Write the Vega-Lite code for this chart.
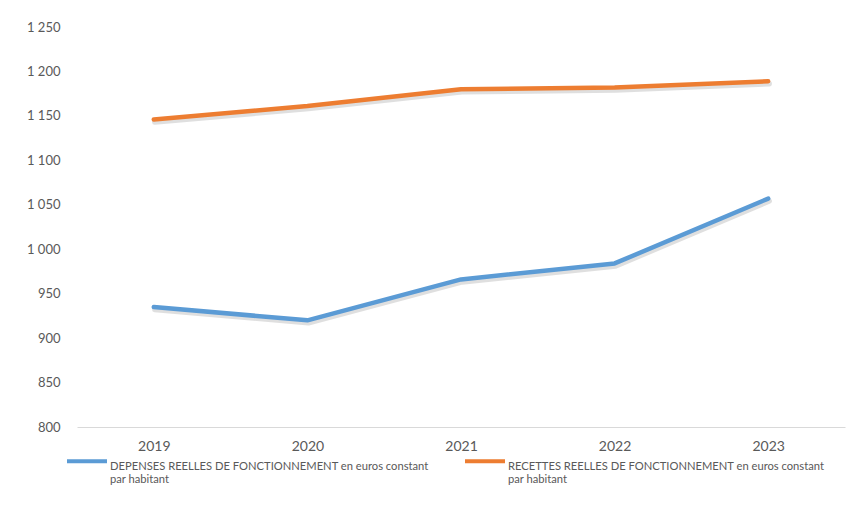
{
  "$schema": "https://vega.github.io/schema/vega-lite/v6.json",
  "width": 768,
  "height": 400,
  "autosize": {"type": "none"},
  "padding": {"left": 77, "top": 27, "right": 14, "bottom": 81},
  "background": "white",
  "config": {
    "view": {"stroke": null},
    "font": "Lato"
  },
  "data": {
    "values": [
      {"annee": "2019", "serie": "DEPENSES REELLES DE FONCTIONNEMENT en euros constant par habitant", "valeur": 935},
      {"annee": "2020", "serie": "DEPENSES REELLES DE FONCTIONNEMENT en euros constant par habitant", "valeur": 920},
      {"annee": "2021", "serie": "DEPENSES REELLES DE FONCTIONNEMENT en euros constant par habitant", "valeur": 966},
      {"annee": "2022", "serie": "DEPENSES REELLES DE FONCTIONNEMENT en euros constant par habitant", "valeur": 984},
      {"annee": "2023", "serie": "DEPENSES REELLES DE FONCTIONNEMENT en euros constant par habitant", "valeur": 1057},
      {"annee": "2019", "serie": "RECETTES REELLES DE FONCTIONNEMENT en euros constant par habitant", "valeur": 1146},
      {"annee": "2020", "serie": "RECETTES REELLES DE FONCTIONNEMENT en euros constant par habitant", "valeur": 1161},
      {"annee": "2021", "serie": "RECETTES REELLES DE FONCTIONNEMENT en euros constant par habitant", "valeur": 1180},
      {"annee": "2022", "serie": "RECETTES REELLES DE FONCTIONNEMENT en euros constant par habitant", "valeur": 1182},
      {"annee": "2023", "serie": "RECETTES REELLES DE FONCTIONNEMENT en euros constant par habitant", "valeur": 1189}
    ]
  },
  "encoding": {
    "x": {
      "field": "annee",
      "type": "ordinal",
      "title": null,
      "scale": {"type": "point", "padding": 0.5},
      "axis": {
        "labelAngle": 0,
        "labelFontSize": 14,
        "labelColor": "#595959",
        "labelPadding": 12,
        "ticks": false,
        "domainColor": "#d9d9d9",
        "domainWidth": 1.2,
        "grid": false
      }
    },
    "y": {
      "field": "valeur",
      "type": "quantitative",
      "title": null,
      "scale": {"domain": [800, 1250], "nice": false, "zero": false},
      "axis": {
        "values": [800, 850, 900, 950, 1000, 1050, 1100, 1150, 1200, 1250],
        "labelExpr": "replace(format(datum.value, ','), ',', ' ')",
        "labelFontSize": 13,
        "labelColor": "#595959",
        "labelPadding": 17,
        "ticks": false,
        "domain": false,
        "grid": false
      }
    }
  },
  "layer": [
    {
      "mark": {"type": "line", "stroke": "#7f7f7f", "opacity": 0.25, "strokeWidth": 5.5, "strokeCap": "round", "strokeJoin": "round", "xOffset": 1, "yOffset": 2.5},
      "encoding": {"detail": {"field": "serie"}}
    },
    {
      "mark": {"type": "line", "strokeWidth": 4.5, "strokeCap": "round", "strokeJoin": "round"},
      "encoding": {
        "color": {
          "field": "serie",
          "type": "nominal",
          "scale": {"range": ["#5b9bd5", "#ed7d31"]},
          "legend": {
            "title": null,
            "orient": "none",
            "legendX": -12,
            "legendY": 412,
            "direction": "horizontal",
            "columns": 2,
            "columnPadding": 28,
            "symbolType": "stroke",
            "symbolSize": 1600,
            "symbolStrokeWidth": 4,
            "labelOffset": 1,
            "labelFontSize": 11.2,
            "labelColor": "#595959",
            "labelLimit": 0,
            "labelBaseline": "top",
            "labelExpr": "split(replace(datum.label, ' par habitant', '|par habitant'), '|')"
          }
        }
      }
    }
  ]
}
